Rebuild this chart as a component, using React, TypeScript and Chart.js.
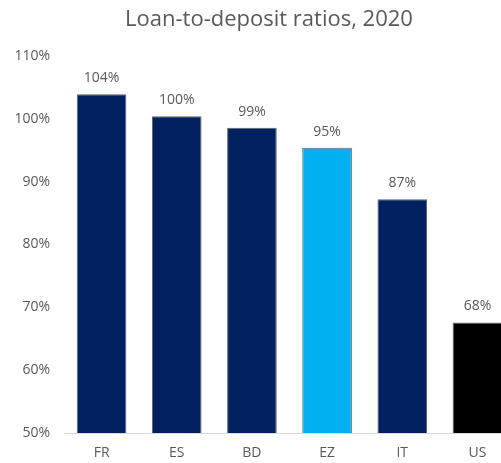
import React, { useEffect, useRef } from "react";
import { Chart, registerables } from "chart.js";

Chart.register(...registerables);

const categories = ["FR", "ES", "BD", "EZ", "IT", "US"];
const values = [103.9, 100.4, 98.6, 95.4, 87.2, 67.6];
const barColors = ["#002060", "#002060", "#002060", "#00B0F0", "#002060", "#000000"];
const yMin = 50;
const yMax = 110;
const yStep = 10;
const titleText = "Loan-to-deposit ratios, 2020";

const FONT = "'Open Sans', 'Noto Sans', sans-serif";
const TEXT_GRAY = "#595959";

const valueLabels = {
  id: "valueLabels",
  afterDatasetsDraw(chart: any) {
    const ctx = chart.ctx;
    const meta = chart.getDatasetMeta(0);
    const data = chart.data.datasets[0].data as number[];
    ctx.save();
    ctx.font = `14px ${FONT}`;
    ctx.fillStyle = TEXT_GRAY;
    ctx.textAlign = "center";
    ctx.textBaseline = "middle";
    meta.data.forEach((bar: any, i: number) => {
      ctx.fillText(`${Math.round(data[i])}%`, bar.x, bar.y - 16);
    });
    ctx.restore();
  },
};

// Centre the title over the plot + a left margin like the source
const titleShift = {
  id: "titleShift",
  afterLayout(chart: any) {
    const t = chart.titleBlock;
    if (t) {
      t.left = 23;
      t.right = chart.width;
    }
  },
};

export default function App() {
  const ref = useRef<HTMLCanvasElement | null>(null);

  useEffect(() => {
    if (!ref.current) return;
    const chart = new Chart(ref.current, {
      type: "bar",
      data: {
        labels: categories,
        datasets: [
          {
            data: values,
            backgroundColor: barColors,
            borderColor: "rgba(70,70,70,0.85)",
            borderWidth: 1,
            categoryPercentage: 1,
            barPercentage: 0.66,
          },
        ],
      },
      options: {
        responsive: false,
        animation: false,
        layout: { padding: { left: 0, right: 0, top: 0, bottom: 0 } },
        plugins: {
          legend: { display: false },
          tooltip: { enabled: false },
          title: {
            display: true,
            text: titleText,
            color: TEXT_GRAY,
            font: { family: FONT, size: 22, weight: "normal" as any },
            padding: { top: 7, bottom: 22.6 },
          },
        },
        scales: {
          x: {
            grid: { display: false, drawTicks: false },
            border: { display: true, color: "#d9d9d9", width: 1 },
            ticks: {
              color: TEXT_GRAY,
              font: { family: FONT, size: 14 },
              padding: 12,
            },
            afterFit: (scale: any) => {
              scale.height = 30;
            },
          },
          y: {
            min: yMin,
            max: yMax,
            grid: { display: false, drawTicks: false },
            border: { display: false },
            ticks: {
              stepSize: yStep,
              color: TEXT_GRAY,
              font: { family: FONT, size: 14 },
              padding: 14,
              callback: (v: any) => `${v}%`,
            },
            afterFit: (scale: any) => {
              scale.width = 64;
            },
          },
        },
      },
      plugins: [valueLabels, titleShift],
    });
    return () => chart.destroy();
  }, []);

  return (
    <div
      style={{
        position: "fixed",
        top: 0,
        left: 0,
        width: 501,
        height: 463,
        overflow: "hidden",
        background: "#ffffff",
      }}
    >
      <canvas ref={ref} width={515} height={463} style={{ width: 515, height: 463 }} />
    </div>
  );
}
